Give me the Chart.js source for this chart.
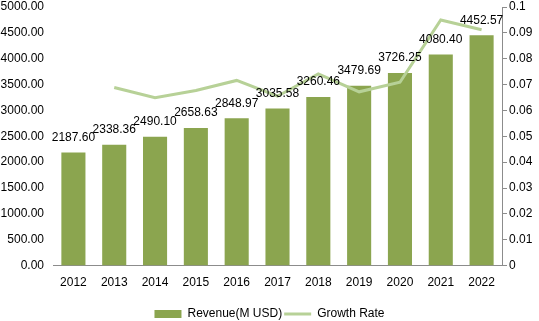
<!DOCTYPE html>
<html>
<head>
<meta charset="utf-8">
<script src="https://cdn.jsdelivr.net/npm/chart.js@4"></script>
<style>
  html, body { margin: 0; padding: 0; background: #fff; }
  #wrap { width: 539px; height: 321px; position: relative; }
</style>
</head>
<body>
<div id="wrap"><canvas id="chart"></canvas></div>
<script>
const years = ['2012', '2013', '2014', '2015', '2016', '2017', '2018', '2019', '2020', '2021', '2022'];
const revenue = [2187.60, 2338.36, 2490.10, 2658.63, 2848.97, 3035.58, 3260.46, 3479.69, 3726.25, 4080.40, 4452.57];
const growth = [null, 0.0689, 0.0649, 0.0677, 0.0716, 0.0655, 0.0741, 0.0672, 0.0709, 0.0950, 0.0912];

const barColor = '#8ba54f';
const lineColor = '#b7d197';
const axisGrey = '#8c8c8c';
const font = { family: 'Liberation Sans', size: 12 };

// value labels above each bar
const barLabels = {
  id: 'barLabels',
  afterDatasetsDraw(chart) {
    const meta = chart.getDatasetMeta(0);
    const ctx = chart.ctx;
    ctx.save();
    ctx.font = '12px "Liberation Sans"';
    ctx.fillStyle = '#000';
    ctx.textAlign = 'center';
    ctx.textBaseline = 'middle';
    meta.data.forEach((bar, i) => {
      ctx.fillText(revenue[i].toFixed(2), bar.x, bar.y - 15);
    });
    ctx.restore();
  }
};

new Chart(document.getElementById('chart'), {
  type: 'bar',
  data: {
    labels: years,
    datasets: [
      {
        label: 'Revenue(M USD)',
        data: revenue,
        backgroundColor: barColor,
        categoryPercentage: 1,
        barPercentage: 0.59,
        yAxisID: 'y',
        order: 1
      },
      {
        label: 'Growth Rate',
        type: 'line',
        data: growth,
        borderColor: lineColor,
        borderWidth: 3,
        pointRadius: 0,
        tension: 0,
        fill: false,
        yAxisID: 'y1',
        order: 0
      }
    ]
  },
  options: {
    responsive: true,
    maintainAspectRatio: false,
    animation: false,
    layout: { padding: { top: 7, right: 0, left: 0, bottom: -9 } },
    plugins: {
      tooltip: { enabled: false },
      legend: {
        position: 'bottom',
        labels: {
          font,
          color: '#000',
          usePointStyle: true,
          boxHeight: 8,
          pointStyleWidth: 27,
          padding: 2,
          generateLabels: chart => [
            { text: 'Revenue(M USD)', pointStyle: 'rect', fillStyle: barColor, strokeStyle: barColor, lineWidth: 0, datasetIndex: 0 },
            { text: 'Growth Rate', pointStyle: 'line', fillStyle: lineColor, strokeStyle: lineColor, lineWidth: 3, datasetIndex: 1 }
          ]
        }
      }
    },
    scales: {
      x: {
        grid: { display: false, drawTicks: false },
        border: { display: true, color: axisGrey },
        ticks: { font, color: '#000', padding: 10, maxRotation: 0 },
        afterFit: s => { s.height += 6; }
      },
      y: {
        position: 'left',
        min: 0,
        max: 5000,
        grid: { display: false, drawTicks: false },
        border: { display: false },
        ticks: { font, color: '#000', stepSize: 500, padding: 9, callback: v => v.toFixed(2) },
        afterFit: s => { s.width = 53; s.paddingTop = 0; s.paddingBottom = 0; }
      },
      y1: {
        position: 'right',
        min: 0,
        max: 0.1,
        grid: { drawOnChartArea: false, drawTicks: true, tickLength: 5, color: axisGrey },
        border: { display: true, color: axisGrey },
        ticks: { font, color: '#000', stepSize: 0.01, padding: 2, callback: v => String(parseFloat(v.toFixed(2))) },
        afterFit: s => { s.width = 37; s.paddingTop = 0; s.paddingBottom = 0; }
      }
    }
  },
  plugins: [barLabels]
});
</script>
</body>
</html>
